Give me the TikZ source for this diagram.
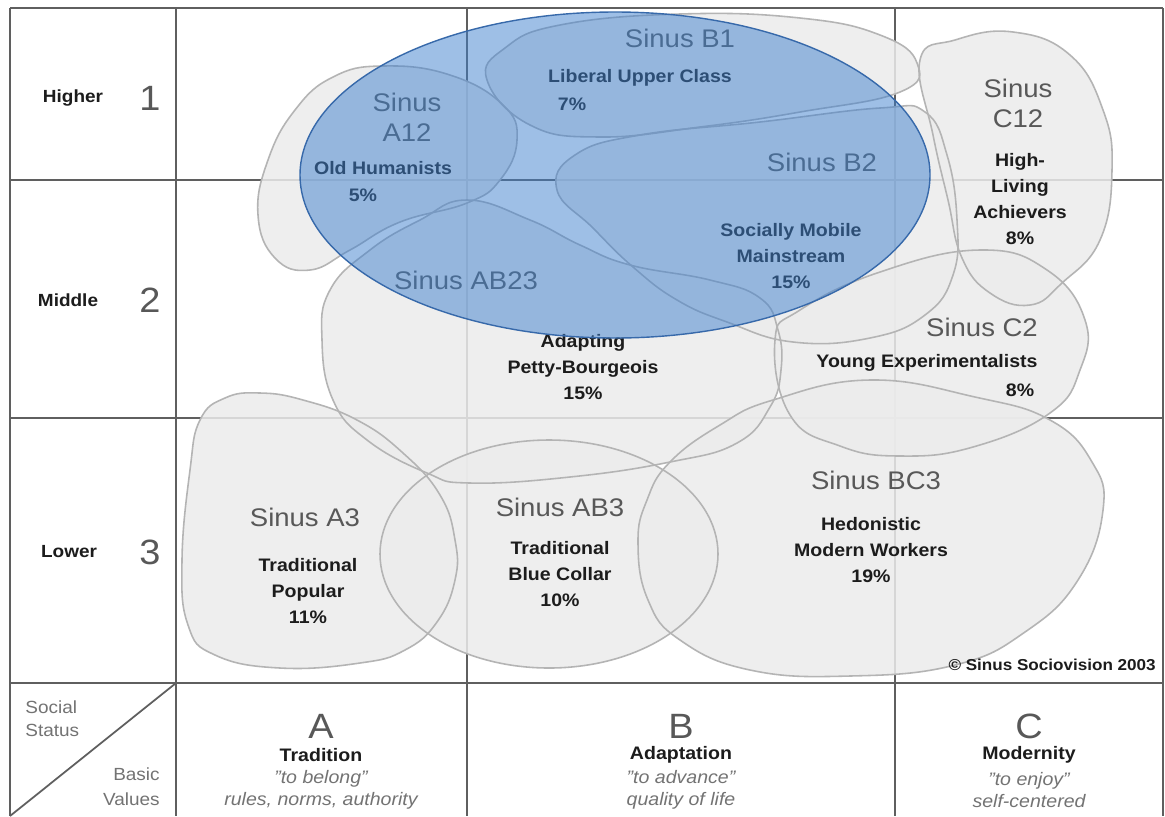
\documentclass[tikz,border=0pt]{standalone}
\usepackage{fontspec}
\setmainfont[FakeStretch=1.08]{Liberation Sans}
\definecolor{gridc}{RGB}{95,95,95}
\definecolor{blobfill}{RGB}{236,236,236}
\definecolor{blobline}{RGB}{180,180,180}
\definecolor{sinusc}{RGB}{88,88,88}
\definecolor{txtc}{RGB}{28,28,28}
\definecolor{bluefill}{RGB}{62,128,206}
\definecolor{blueline}{RGB}{55,105,170}
\definecolor{italc}{RGB}{115,115,115}
\tikzset{
  gridline/.style={draw=gridc, line width=1.2pt},
  blobf/.style={fill=blobfill, fill opacity=0.85},
  blobo/.style={draw=blobline, line width=0.9pt},
  sinus/.style={text=sinusc, inner sep=0pt, align=center, font=\fontsize{14.5}{17}\selectfont},
  lbl/.style={text=txtc, inner sep=0pt, align=center, font=\bfseries\fontsize{10.3}{14.8}\selectfont},
  rowlbl/.style={text=txtc, inner sep=0pt, font=\bfseries\fontsize{10}{12}\selectfont},
  digit/.style={text=sinusc, inner sep=0pt, font=\fontsize{20}{22}\selectfont},
  colletter/.style={text=sinusc, inner sep=0pt, font=\fontsize{20}{22}\selectfont},
  colname/.style={text=txtc, inner sep=0pt, font=\bfseries\fontsize{10.3}{12}\selectfont},
  colital/.style={text=italc, inner sep=0pt, align=center, font=\itshape\fontsize{10.3}{12.2}\selectfont},
  corner/.style={text=italc, inner sep=0pt, font=\fontsize{10}{12}\selectfont}
}
\def\pAtwelve{plot[smooth cycle, tension=0.75] coordinates {(333,77) (383,66) (450,75) (503,105) (517,140) (500,180) (467,203) (400,222) (350,250) (310,270) (275,258) (258,215) (268,160) (295,110)}}
\def\pBone{plot[smooth cycle, tension=0.75] coordinates {(487,80) (505,48) (560,25) (680,14) (800,18) (880,35) (917,63) (900,92) (800,112) (700,127) (600,137) (530,125)}}
\def\pBtwo{plot[smooth cycle, tension=0.75] coordinates {(557,190) (575,155) (640,135) (760,122) (880,108) (925,112) (947,155) (957,220) (953,275) (925,315) (870,338) (793,342) (727,322) (677,300) (633,267) (593,228)}}
\def\pCtwelve{plot[smooth cycle, tension=0.75] coordinates {(920,60) (955,40) (1013,32) (1070,55) (1103,110) (1112,170) (1100,240) (1062,283) (1030,305) (990,293) (962,258) (948,200) (933,135)}}
\def\pABtwothree{plot[smooth cycle, tension=0.75] coordinates {(467,200) (530,220) (580,245) (630,265) (710,280) (760,298) (778,330) (781,370) (770,407) (737,443) (670,462) (570,477) (470,483) (427,473) (367,440) (333,400) (322,340) (330,290) (370,250) (420,220)}}
\def\pCtwo{plot[smooth cycle, tension=0.75] coordinates {(775,340) (800,310) (880,272) (980,250) (1047,270) (1085,320) (1080,370) (1050,413) (973,447) (900,456) (840,446) (790,415)}}
\def\pAthree{plot[smooth cycle, tension=0.75] coordinates {(190,470) (200,420) (225,398) (260,393) (303,400) (357,420) (403,453) (440,495) (455,540) (455,580) (437,622) (405,650) (360,663) (280,668) (215,655) (188,625) (182,560)}}
\def\pABthree{(549,554) ellipse [x radius=169, y radius=114]}
\def\pBCthree{plot[smooth cycle, tension=0.75] coordinates {(670,462) (720,425) (773,400) (870,380) (975,397) (1050,420) (1092,462) (1103,510) (1078,580) (1025,632) (955,665) (850,676) (750,670) (680,640) (648,600) (638,543) (647,500)}}
\begin{document}
\begin{tikzpicture}[x=0.02cm, y=-0.02cm]
\useasboundingbox (0,0) rectangle (1165,816);
\fill[white] (0,0) rectangle (1165,816);
% grid
\draw[gridline] (10,8) -- (1163,8);
\draw[gridline] (10,8) -- (10,816);
\draw[gridline] (1163,8) -- (1163,816);
\draw[gridline] (176,8) -- (176,816);
\draw[gridline] (467,8) -- (467,816);
\draw[gridline] (895,8) -- (895,816);
\draw[gridline] (10,180) -- (1163,180);
\draw[gridline] (10,418) -- (1163,418);
\draw[gridline] (10,683) -- (1163,683);
\draw[draw=gridc, line width=1pt] (10,816) -- (176,683);
% blob fills
\path[blobf] \pAtwelve;
\path[blobf] \pBone;
\path[blobf] \pBtwo;
\path[blobf] \pCtwelve;
\path[blobf] \pABtwothree;
\path[blobf] \pCtwo;
\path[blobf] \pAthree;
\path[blobf] \pABthree;
\path[blobf] \pBCthree;
% blob outlines
\path[blobo] \pAtwelve;
\path[blobo] \pBone;
\path[blobo] \pBtwo;
\path[blobo] \pCtwelve;
\path[blobo] \pABtwothree;
\path[blobo] \pCtwo;
\path[blobo] \pAthree;
\path[blobo] \pABthree;
\path[blobo] \pBCthree;
% row labels
\node[rowlbl] (higher) at (73,98) {Higher};
\node[digit] (one) at (150,98) {1};
\node[rowlbl] (middle) at (68,300) {Middle};
\node[digit] (two) at (150,300) {2};
\node[rowlbl] (lower) at (69,552) {Lower};
\node[digit] (three) at (150,552) {3};
% blob labels
\node[sinus] (sA12) at (407,117) {Sinus\\A12};
\node[lbl] (tA12) at (383,168) {Old Humanists};
\node[lbl] (pA12) at (363,195) {5\%};
\node[sinus] (sB1) at (680,38) {Sinus B1};
\node[lbl] (tB1) at (640,78) {Liberal Upper Class};
\node[lbl] (pB1) at (572,104) {7\%};
\node[sinus] (sB2) at (822,162) {Sinus B2};
\node[lbl] (tB2) at (791,256) {Socially Mobile\\Mainstream\\15\%};
\node[sinus] (sAB23) at (466,280) {Sinus AB23};
\node[lbl] (tAB23) at (583,367) {Adapting\\Petty-Bourgeois\\15\%};
\node[sinus] (sC12) at (1018,103) {Sinus\\C12};
\node[lbl] (tC12) at (1020,199) {High-\\Living\\Achievers\\8\%};
\node[sinus] (sC2) at (982,327) {Sinus C2};
\node[lbl] (tC2) at (927,363) {Young Experimentalists};
\node[lbl] (pC2) at (1020,390) {8\%};
\node[sinus] (sA3) at (305,517) {Sinus A3};
\node[lbl] (tA3) at (308,591) {Traditional\\Popular\\11\%};
\node[sinus] (sAB3) at (560,507) {Sinus AB3};
\node[lbl] (tAB3) at (560,574) {Traditional\\Blue Collar\\10\%};
\node[sinus] (sBC3) at (876,480) {Sinus BC3};
\node[lbl] (tBC3) at (871,550) {Hedonistic\\Modern Workers\\19\%};
\node[text=txtc, inner sep=0pt, anchor=east, font=\bfseries\fontsize{9}{11}\selectfont] (copy) at (1156,665) {© Sinus Sociovision 2003};
% bottom row
\node[corner, anchor=west] (social) at (25,707) {Social};
\node[corner, anchor=west] (status) at (25,730) {Status};
\node[corner, anchor=east] (basic) at (160,774) {Basic};
\node[corner, anchor=east] (values) at (160,799) {Values};
\node[colletter] (lA) at (321,726) {A};
\node[colname] (nA) at (321,755) {Tradition};
\node[colital] (iA) at (321,790) {\char34 to belong\char34\\rules, norms, authority};
\node[colletter] (lB) at (681,726) {B};
\node[colname] (nB) at (681,755) {Adaptation};
\node[colital] (iB) at (681,790) {\char34 to advance\char34\\quality of life};
\node[colletter] (lC) at (1029,726) {C};
\node[colname] (nC) at (1029,755) {Modernity};
\node[colital] (iC) at (1029,790) {\char34 to enjoy\char34\\self-centered};
% blue ellipse
\path[fill=bluefill, fill opacity=0.5, draw=blueline, line width=0.8pt] (615,175) ellipse [x radius=315, y radius=163];
\end{tikzpicture}
\end{document}
